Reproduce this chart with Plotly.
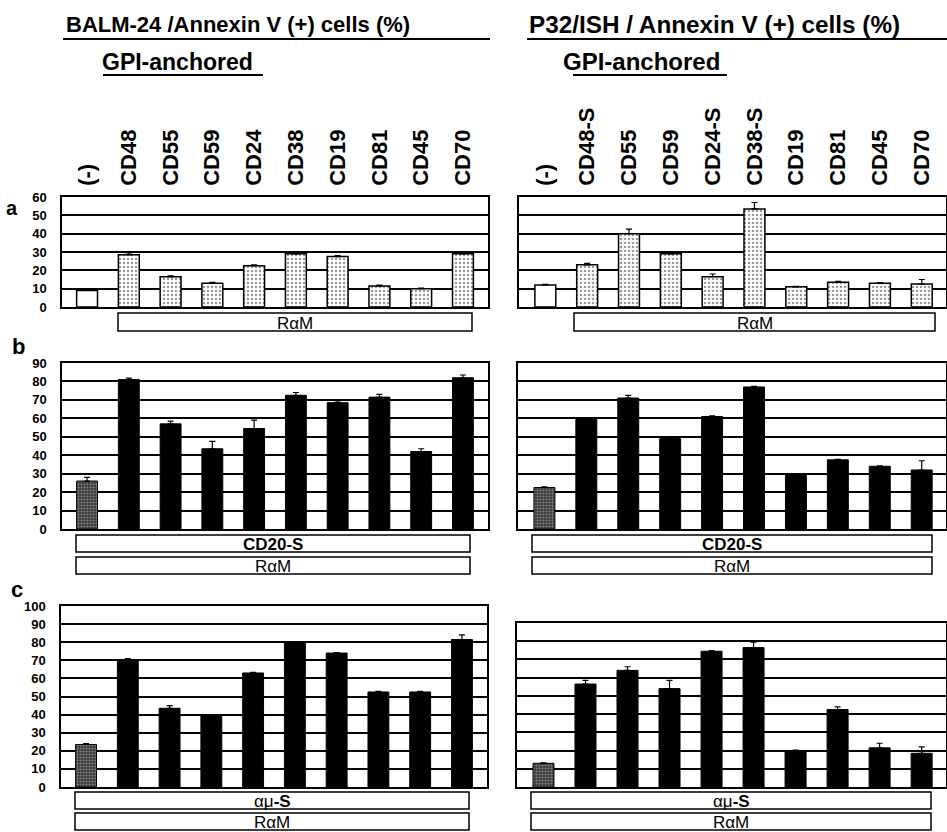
import plotly.graph_objects as go

W, H = 947, 832

# ---------------- data ----------------
cats_left = ["(-)", "CD48", "CD55", "CD59", "CD24", "CD38", "CD19", "CD81", "CD45", "CD70"]
cats_right = ["(-)", "CD48-S", "CD55", "CD59", "CD24-S", "CD38-S", "CD19", "CD81", "CD45", "CD70"]

a_left = [9, 28.5, 16.5, 13, 22.5, 29, 27.5, 11.5, 10, 29]
a_left_err = [0, 1, 0.5, 0.5, 0.5, 1, 0.5, 0.5, 0.3, 0.5]
a_right = [12, 23, 40, 29, 16.5, 53.5, 11, 13.5, 13, 12.5]
a_right_err = [0.3, 0.8, 2.5, 0.8, 1.5, 3.5, 0.3, 0.5, 0.3, 2.5]

b_left = [26, 81, 57, 43.5, 54.5, 72.5, 68.5, 71.5, 42, 82]
b_left_err = [2, 0.8, 1.5, 4, 4.5, 1.5, 1, 1.5, 1.5, 1.5]
b_right = [22.5, 60, 71, 49, 61, 77, 29, 37.5, 34, 32]
b_right_err = [0.3, 0.3, 1.5, 0.3, 0.3, 0.3, 0.3, 0.3, 0.3, 5]

c_left = [23.5, 69.5, 43.5, 39.5, 63, 79.5, 74, 52.5, 52.5, 81.5]
c_left_err = [0.5, 1.5, 1.5, 0.3, 0.3, 0.3, 0.3, 0.3, 0.3, 2.5]
c_right = [13, 56.5, 64, 54, 74.5, 76.5, 20, 42.5, 21.5, 18.5]
c_right_err = [0.3, 2, 2, 4.5, 0.3, 3, 0.3, 1.5, 2.5, 3.5]

yticks_a = [0, 10, 20, 30, 40, 50, 60]
yticks_b = [0, 10, 20, 30, 40, 50, 60, 70, 80, 90]
yticks_c = [0, 10, 20, 30, 40, 50, 60, 70, 80, 90, 100]

title_left = "BALM-24 /Annexin V (+) cells (%)"
title_right = "P32/ISH / Annexin V (+) cells (%)"
subtitle = "GPI-anchored"

# ---------------- helpers ----------------
def fx(p):
    return p / W


def fy(p):
    return 1 - p / H


FONT = "Liberation Sans, Arial, sans-serif"

fig = go.Figure()

# panel definitions: (axis idx, cats, vals, errs, yticks, ymax, xpx, ypx, row, side)
panels = [
    (1, cats_left, a_left, a_left_err, yticks_a, 60, (62, 488), (197, 307), "a", "L"),
    (2, cats_right, a_right, a_right_err, yticks_a, 60, (519, 946), (197, 307), "a", "R"),
    (3, cats_left, b_left, b_left_err, yticks_b, 90, (62, 488), (363, 529), "b", "L"),
    (4, cats_right, b_right, b_right_err, yticks_b, 90, (518, 946), (363, 529), "b", "R"),
    (5, cats_left, c_left, c_left_err, yticks_c, 100, (61, 487), (606, 787), "c", "L"),
    (6, cats_right, c_right, c_right_err, yticks_c, 90, (517, 946), (623, 787), "c", "R"),
]

layout_axes = {}
for idx, cats, vals, errs, yt, ymax, xpx, ypx, row, side in panels:
    xa = "x" if idx == 1 else f"x{idx}"
    ya = "y" if idx == 1 else f"y{idx}"
    if row == "a":
        ctrl_marker = dict(color="white", line=dict(color="black", width=1.5))
        rest_marker = dict(color="white", line=dict(color="black", width=1.5),
                           pattern=dict(shape=".", fgcolor="#333333", bgcolor="white",
                                        size=4, solidity=0.3))
    else:
        ctrl_marker = dict(color="#444444", line=dict(color="black", width=1),
                           pattern=dict(shape=".", fgcolor="#d0d0d0", bgcolor="#3a3a3a",
                                        size=3, solidity=0.35))
        rest_marker = dict(color="black", line=dict(color="black", width=1))
    for sl, mk in ((slice(0, 1), ctrl_marker), (slice(1, None), rest_marker)):
        fig.add_trace(go.Bar(
            x=cats[sl], y=vals[sl], width=0.5, marker=mk,
            error_y=dict(type="data", symmetric=False, array=errs[sl],
                         arrayminus=[0] * len(errs[sl]), color="black",
                         thickness=1.2, width=3),
            xaxis=xa, yaxis=ya, showlegend=False, hoverinfo="skip",
        ))
    xr = [-0.6, 9.6] if side == "L" else [-0.63, 9.58]
    xkey = "xaxis" if idx == 1 else f"xaxis{idx}"
    ykey = "yaxis" if idx == 1 else f"yaxis{idx}"
    layout_axes[xkey] = dict(
        domain=[fx(xpx[0]), fx(xpx[1])], anchor=ya, range=xr,
        type="category", categoryorder="array", categoryarray=cats,
        side="top", showticklabels=(row == "a"), tickangle=-90, ticks="",
        ticklabelstandoff=5, automargin=False,
        tickfont=dict(family=FONT, size=22, color="black", weight="bold"),
        showline=True, linecolor="black", linewidth=1.5, mirror=True,
        showgrid=False, zeroline=False, fixedrange=True,
    )
    layout_axes[ykey] = dict(
        domain=[fy(ypx[1]), fy(ypx[0])], anchor=xa, range=[0, ymax],
        tickvals=yt, showticklabels=(side == "L"), ticks="",
        ticklabelstandoff=11, automargin=False,
        tickfont=dict(family=FONT, size=13, color="black", weight="bold"),
        showline=True, linecolor="black", linewidth=1.5, mirror=True,
        showgrid=True, gridcolor="black", gridwidth=1.5, zeroline=False,
        fixedrange=True,
    )

fig.update_layout(**layout_axes)

shapes = []
annotations = []


def text(t, x, y, size, bold=True, xanchor="left"):
    annotations.append(dict(
        text=t, x=fx(x), y=fy(y), xref="paper", yref="paper",
        xanchor=xanchor, yanchor="middle", showarrow=False,
        font=dict(family=FONT, size=size, color="black",
                  weight="bold" if bold else "normal"),
    ))


def hline(x0, x1, y, w=2):
    shapes.append(dict(type="line", xref="paper", yref="paper",
                       x0=fx(x0), x1=fx(x1), y0=fy(y), y1=fy(y),
                       line=dict(color="black", width=w)))


def box(x0, x1, y0, y1, label, bold):
    shapes.append(dict(type="rect", xref="paper", yref="paper",
                       x0=fx(x0), x1=fx(x1), y0=fy(y1), y1=fy(y0),
                       line=dict(color="black", width=1.5), fillcolor="white"))
    text(label, (x0 + x1) / 2, (y0 + y1) / 2 + 1, 17, bold=bold, xanchor="center")


# titles
text(title_left, 64, 24, 22)
hline(63, 490, 39)
text(title_right, 527, 24, 24.3)
hline(527, 947, 39)
# GPI-anchored
text(subtitle, 100, 62, 23)
hline(103, 263, 75)
text(subtitle, 561, 62, 24)
hline(573, 727, 75)
# panel letters
text("a", 12, 208, 20, xanchor="center")
text("b", 18, 346, 22, xanchor="center")
text("c", 17, 589, 22, xanchor="center")

# treatment boxes
box(118, 472, 313, 331, "RαM", False)
box(574, 935, 313, 331, "RαM", False)
box(76, 470, 535, 552, "CD20-S", True)
box(76, 470, 557, 574, "RαM", False)
box(532, 932, 535, 552, "CD20-S", True)
box(532, 932, 557, 574, "RαM", False)
box(75, 469, 792, 809, "αμ<b>-S</b>", False)
box(75, 469, 813, 830, "RαM", False)
box(531, 931, 792, 809, "αμ<b>-S</b>", False)
box(531, 931, 813, 830, "RαM", False)

fig.update_layout(
    width=W, height=H, margin=dict(l=0, r=0, t=0, b=0, pad=0, autoexpand=False),
    paper_bgcolor="white", plot_bgcolor="white",
    barmode="overlay", shapes=shapes, annotations=annotations,
    showlegend=False,
)

fig.write_html(
    "out.html",
    config={"displayModeBar": False},
    post_script="document.body.style.margin='0';document.body.style.overflow='hidden';",
)
